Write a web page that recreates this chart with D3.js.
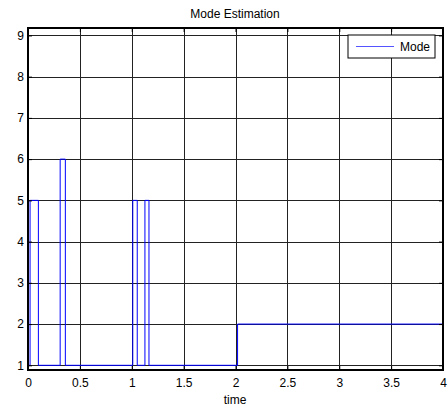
<!DOCTYPE html>
<html>
<head>
<meta charset="utf-8">
<script src="https://cdn.jsdelivr.net/npm/d3@7"></script>
<style>
  body { margin: 0; background: #fff; }
  text { font-family: "Liberation Sans", Arial, sans-serif; fill: #000; }
</style>
</head>
<body>
<div id="chart"></div>
<script>
// Width and height
var chart_width  = 448;
var chart_height = 409;
var margin = {left: 28, right: 5, top: 28, bottom: 39};

// step signal: times where mode changes, and the mode held from that time
var mode_times  = [0, 0.02, 0.1, 0.31, 0.36, 1.01, 1.053, 1.127, 1.166, 2.02, 4];
var mode_values = [1, 5,    1,   6,    1,    5,    1,     5,     1,     2,    2];
var x_ticks = [0, 0.5, 1, 1.5, 2, 2.5, 3, 3.5, 4];
var y_ticks = [1, 2, 3, 4, 5, 6, 7, 8, 9];

var data = mode_times.map(function(t, i){ return {t: t, v: mode_values[i]}; });

var svg = d3.select("#chart")
    .append("svg")
    .attr("width", chart_width)
    .attr("height", chart_height);

var x = d3.scaleLinear()
    .domain([0, 4])
    .range([margin.left, chart_width - margin.right]);

var y = d3.scaleLinear()
    .domain([0.886, 9.18])
    .range([chart_height - margin.bottom, margin.top]);

// grid
svg.append("g")
    .selectAll("line")
    .data(x_ticks)
    .enter()
    .append("line")
    .attr("x1", function(d){ return Math.round(x(d)) + 0.5; })
    .attr("x2", function(d){ return Math.round(x(d)) + 0.5; })
    .attr("y1", margin.top)
    .attr("y2", chart_height - margin.bottom)
    .attr("stroke", "#222")
    .attr("stroke-width", 1);

svg.append("g")
    .selectAll("line")
    .data(y_ticks)
    .enter()
    .append("line")
    .attr("y1", function(d){ return Math.round(y(d)) + 0.5; })
    .attr("y2", function(d){ return Math.round(y(d)) + 0.5; })
    .attr("x1", margin.left)
    .attr("x2", chart_width - margin.right)
    .attr("stroke", "#222")
    .attr("stroke-width", 1);

// mode line
var line = d3.line()
    .x(function(d){ return x(d.t); })
    .y(function(d){ return y(d.v); })
    .curve(d3.curveStepAfter);

svg.append("path")
    .datum(data)
    .attr("d", line)
    .attr("fill", "none")
    .attr("stroke", "#0000ff")
    .attr("stroke-width", 1);

// axes, ticks inward
var xAxis = d3.axisBottom(x).tickValues(x_ticks).tickSize(-4).tickPadding(8)
    .tickFormat(d3.format("~g"));
var xTop = d3.axisTop(x).tickValues(x_ticks).tickSize(-4).tickFormat("");
var yAxis = d3.axisLeft(y).tickValues(y_ticks).tickSize(-4).tickPadding(4);
var yRight = d3.axisRight(y).tickValues(y_ticks).tickSize(-4).tickFormat("");

function styleAxis(g){
  g.select(".domain").remove();
  g.selectAll("line").attr("stroke", "#000");
  g.selectAll("text").style("font-size", "12px").style("font-family", "'Liberation Sans', Arial, sans-serif");
}

svg.append("g")
    .attr("transform", "translate(0," + (chart_height - margin.bottom) + ")")
    .call(xAxis).call(styleAxis);
svg.append("g")
    .attr("transform", "translate(0," + margin.top + ")")
    .call(xTop).call(styleAxis);
svg.append("g")
    .attr("transform", "translate(" + margin.left + ",0)")
    .call(yAxis).call(styleAxis);
svg.append("g")
    .attr("transform", "translate(" + (chart_width - margin.right) + ",0)")
    .call(yRight).call(styleAxis);

// box
svg.append("rect")
    .attr("x", margin.left)
    .attr("y", margin.top)
    .attr("width", chart_width - margin.left - margin.right)
    .attr("height", chart_height - margin.top - margin.bottom)
    .attr("fill", "none")
    .attr("stroke", "#000")
    .attr("stroke-width", 2);

// title and label
svg.append("text")
    .attr("x", 235)
    .attr("y", 18)
    .attr("text-anchor", "middle")
    .style("font-size", "12px")
    .text("Mode Estimation");

svg.append("text")
    .attr("x", 235)
    .attr("y", 404)
    .attr("text-anchor", "middle")
    .style("font-size", "12px")
    .text("time");

// legend
var legend = svg.append("g").attr("transform", "translate(348,35)");
legend.append("rect")
    .attr("width", 87).attr("height", 23)
    .attr("fill", "#fff").attr("stroke", "#000").attr("stroke-width", 1);
legend.append("line")
    .attr("x1", 8).attr("x2", 46).attr("y1", 11.5).attr("y2", 11.5)
    .attr("stroke", "#5555ff").attr("stroke-width", 1);
legend.append("text")
    .attr("x", 52).attr("y", 16)
    .style("font-size", "12px")
    .text("Mode");
</script>
</body>
</html>
